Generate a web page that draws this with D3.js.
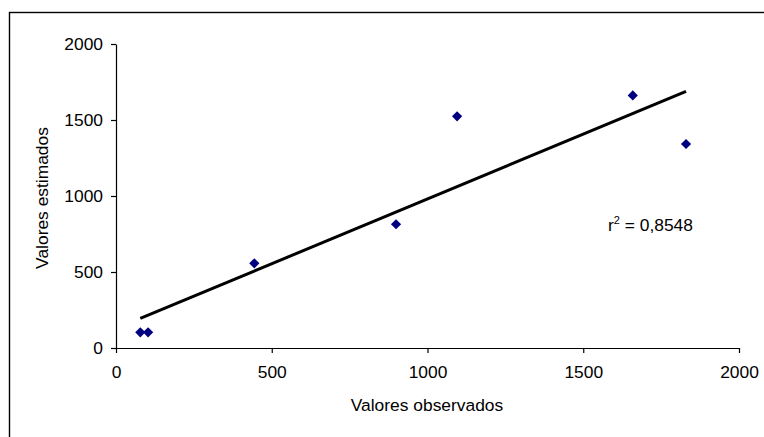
<!DOCTYPE html>
<html>
<head>
<meta charset="utf-8">
<script src="https://cdn.jsdelivr.net/npm/d3@7"></script>
<style>
  html, body { margin: 0; padding: 0; background: #fff; }
  svg { display: block; font-family: "Liberation Sans", Arial, sans-serif; }
</style>
</head>
<body>
<svg id="chart" width="764" height="437"></svg>
<script>
// Data
const observed  = [78, 103, 444, 899, 1095, 1659, 1830];
const estimated = [103, 103, 557, 814, 1524, 1662, 1342];
const xTicks = [0, 500, 1000, 1500, 2000];
const yTicks = [0, 500, 1000, 1500, 2000];
const xTitle = "Valores observados";
const yTitle = "Valores estimados";
const r2Label = "0,8548";

const svg = d3.select("#chart");

// outer frame (extends beyond the right/bottom of the view)
svg.append("rect")
  .attr("x", 9.5).attr("y", 12.5)
  .attr("width", 800).attr("height", 500)
  .attr("fill", "#fff").attr("stroke", "#000").attr("stroke-width", 1.4);

const x = d3.scaleLinear().domain([0, 2000]).range([116, 739]);
const y = d3.scaleLinear().domain([0, 2000]).range([348, 44]);

const fontSize = 17.4;

// X axis
const gx = svg.append("g")
  .attr("transform", `translate(0,${y(0)})`)
  .call(d3.axisBottom(x).tickValues(xTicks).tickFormat(d3.format("d"))
        .tickSize(5).tickSizeOuter(0).tickPadding(13));
// Y axis
const gy = svg.append("g")
  .attr("transform", `translate(${x(0)},0)`)
  .call(d3.axisLeft(y).tickValues(yTicks).tickFormat(d3.format("d"))
        .tickSize(5).tickSizeOuter(0).tickPadding(8));

[gx, gy].forEach(g => {
  g.selectAll("path.domain").attr("stroke", "#000").attr("stroke-width", 1.2);
  g.selectAll(".tick line").attr("stroke", "#000").attr("stroke-width", 1.2);
  g.selectAll(".tick text")
    .attr("fill", "#000")
    .style("font-family", '"Liberation Sans", Arial, sans-serif')
    .style("font-size", fontSize + "px");
});

// Regression trend line computed from the data
const n = observed.length;
const mx = d3.mean(observed), my = d3.mean(estimated);
let sxy = 0, sxx = 0;
for (let i = 0; i < n; i++) {
  sxy += (observed[i] - mx) * (estimated[i] - my);
  sxx += (observed[i] - mx) ** 2;
}
const slope = sxy / sxx, intercept = my - slope * mx;
const xExt = d3.extent(observed);
const trend = xExt.map(v => [v, intercept + slope * v]);

svg.append("path")
  .datum(trend)
  .attr("d", d3.line().x(d => x(d[0])).y(d => y(d[1])))
  .attr("fill", "none")
  .attr("stroke", "#000")
  .attr("stroke-width", 3);

// Points (diamonds)
const pts = observed.map((v, i) => [v, estimated[i]]);
svg.append("g").selectAll("path")
  .data(pts)
  .join("path")
  .attr("d", d3.symbol(d3.symbolSquare).size(52))
  .attr("transform", d => `translate(${x(d[0])},${y(d[1])}) rotate(45)`)
  .attr("fill", "#000080");

// r² label
const rt = svg.append("text")
  .attr("x", 608).attr("y", 231)
  .attr("fill", "#000")
  .style("font-size", fontSize + "px");
rt.append("tspan").text("r");
rt.append("tspan").attr("dy", -7).style("font-size", "11px").text("2");
rt.append("tspan").attr("dy", 7).text(" = " + r2Label);

// Axis titles
svg.append("text")
  .attr("x", 427).attr("y", 411)
  .attr("text-anchor", "middle")
  .attr("fill", "#000")
  .style("font-size", fontSize + "px")
  .text(xTitle);

svg.append("text")
  .attr("transform", "translate(48,198) rotate(-90)")
  .attr("text-anchor", "middle")
  .attr("fill", "#000")
  .style("font-size", fontSize + "px")
  .text(yTitle);
</script>
</body>
</html>
